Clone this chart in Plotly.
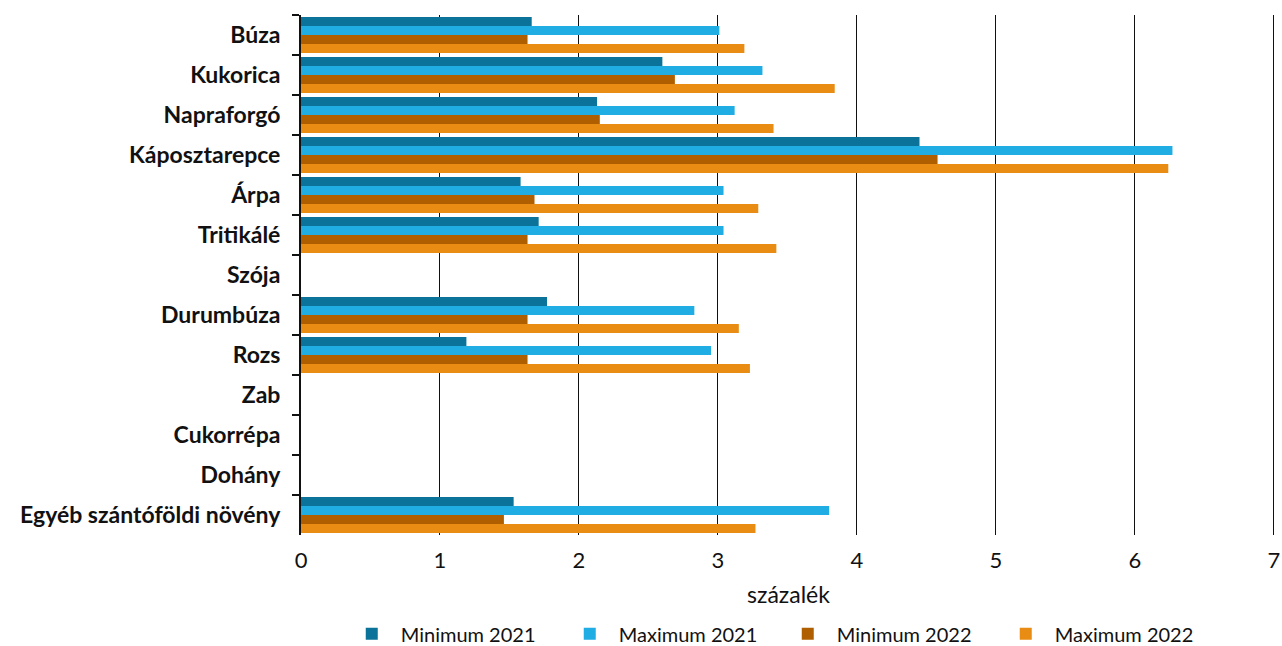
import plotly.graph_objects as go

categories = ["Búza", "Kukorica", "Napraforgó", "Káposztarepce", "Árpa", "Tritikálé",
              "Szója", "Durumbúza", "Rozs", "Zab", "Cukorrépa", "Dohány",
              "Egyéb szántóföldi növény"]
min_2021 = [1.66, 2.60, 2.13, 4.45, 1.58, 1.71, None, 1.77, 1.19, None, None, None, 1.53]
max_2021 = [3.01, 3.32, 3.12, 6.27, 3.04, 3.04, None, 2.83, 2.95, None, None, None, 3.80]
min_2022 = [1.63, 2.69, 2.15, 4.58, 1.68, 1.63, None, 1.63, 1.63, None, None, None, 1.46]
max_2022 = [3.19, 3.84, 3.40, 6.24, 3.29, 3.42, None, 3.15, 3.23, None, None, None, 3.27]

series = [
    ("Minimum 2021", min_2021, "#0b7399"),
    ("Maximum 2021", max_2021, "#1fade4"),
    ("Minimum 2022", min_2022, "#b05f00"),
    ("Maximum 2022", max_2022, "#e88c14"),
]

fig = go.Figure()
for name, vals, color in series:
    fig.add_trace(go.Bar(y=categories, x=vals, name=name, orientation="h",
                         marker=dict(color=color, line=dict(width=0))))

fig.update_layout(
    width=1282, height=646,
    margin=dict(l=301, r=6, t=15, b=111, autoexpand=False),
    plot_bgcolor="white", paper_bgcolor="white",
    barmode="group", bargap=0.1, bargroupgap=0,
    font=dict(family="Lato, sans-serif", size=21, color="#111111"),
    legend=dict(orientation="h", x=0.49, xanchor="center", y=-0.19, yanchor="middle",
                font=dict(size=20), traceorder="normal", itemwidth=48,
                entrywidth=155, entrywidthmode="pixels"),
    showlegend=True,
)
fig.update_xaxes(range=[0, 7.015], tickvals=[0, 1, 2, 3, 4, 5, 6, 7], showgrid=True,
                 gridcolor="#111111", gridwidth=1,
                 zeroline=False, showline=False, ticks="", automargin=False,
                 ticklabeloverflow="allow", ticklabelstandoff=10,
                 title=dict(text="százalék", font=dict(size=23), standoff=14),
                 tickfont=dict(size=22))
fig.update_yaxes(autorange="reversed", showline=True, linecolor="#111111", linewidth=2,
                 ticks="outside", tickson="boundaries", ticklen=7, tickwidth=2,
                 tickcolor="#111111", showgrid=False, automargin=False,
                 ticklabelstandoff=14,
                 tickfont=dict(size=23, family="Lato, sans-serif", weight="bold"))

fig.write_html(
    "out.html",
    config={"displayModeBar": False},
    post_script="document.body.style.margin='0';document.body.style.overflow='hidden';",
)
